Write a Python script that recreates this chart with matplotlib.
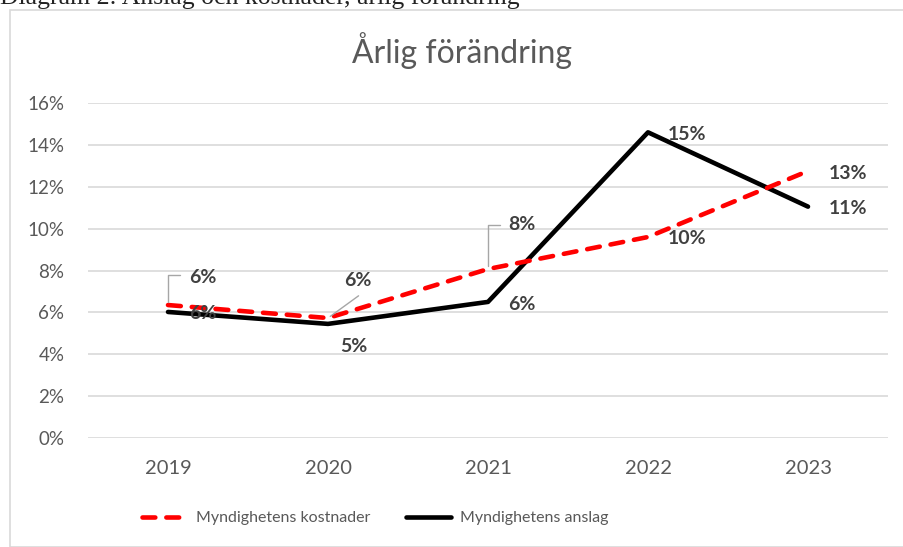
import matplotlib.pyplot as plt
from matplotlib.patches import Rectangle

years = ["2019", "2020", "2021", "2022", "2023"]
kostnader = [6.35, 5.73, 8.07, 9.6, 12.75]
anslag = [6.02, 5.45, 6.5, 14.6, 11.05]
lbl_kost = ["6%", "6%", "8%", "10%", "13%"]
lbl_ansl = ["6%", "5%", "6%", "15%", "11%"]
yticks = [0, 2, 4, 6, 8, 10, 12, 14, 16]

plt.rcParams['font.family'] = ['Lato', 'DejaVu Sans']
grey = "#595959"
lblc = "#404040"

fig = plt.figure(figsize=(9.04, 5.47), dpi=100)
# outer chart frame
fig.patches.append(Rectangle((10/904, 0), 1.0, 1 - 10/547, transform=fig.transFigure,
                             fill=False, edgecolor="#d9d9d9", linewidth=1.2))
fig.text(0.0, 1 - 4/547, "Diagram 2: Anslag och kostnader, årlig förändring",
         family="Liberation Serif", fontsize=18.5, color="#222222", va="baseline")

ax = fig.add_axes([88/904, 1 - 438/547, 800/904, 335/547])
x = range(len(years))
ax.plot(x, kostnader, color="#ff0000", lw=3.3, ls=(0, (2.8, 2.4)), dash_capstyle="round",
        label="Myndighetens kostnader", zorder=3)
ax.plot(x, anslag, color="black", lw=3.3, solid_capstyle="round",
        label="Myndighetens anslag", zorder=2)

ax.set_xlim(-0.5, 4.5)
ax.set_ylim(0, 16)
ax.set_yticks(yticks)
ax.set_yticklabels([f"{t}%" for t in yticks])
ax.set_xticks(list(x))
ax.set_xticklabels(years)
ax.tick_params(length=0, colors=grey)
ax.tick_params(axis="y", pad=17, labelsize=13.5)
ax.tick_params(axis="x", pad=16, labelsize=14.5)
ax.grid(axis="y", color="#d9d9d9", lw=1.2)
ax.set_axisbelow(True)
for s in ax.spines.values():
    s.set_visible(False)

fig.text(462/904, 1 - 51/547, "Årlig förändring", ha="center", va="center",
         fontsize=23, color=grey)

kw = dict(fontsize=14, fontweight="bold", color=lblc, va="center", ha="left", zorder=5)
# data labels (offsets in points)
offs_k = [(15, 20), (11.5, 27), (14.5, 32), (14.5, -1), (15, -2)]
offs_a = [(15, -1), (8.5, -16), (14.5, -2), (14.5, -1.5), (15, -1)]
for i in range(5):
    ax.annotate(lbl_kost[i], (i, kostnader[i]), xytext=offs_k[i], textcoords="offset points", **kw)
    ax.annotate(lbl_ansl[i], (i, anslag[i]), xytext=offs_a[i], textcoords="offset points", **kw)

# leader lines
lc = "#a6a6a6"
ax.annotate("", (0, kostnader[0]), xytext=(8.6, 21.5), textcoords="offset points",
            arrowprops=dict(arrowstyle="-", color=lc, lw=1, shrinkA=0, shrinkB=2,
                            connectionstyle="angle,angleA=0,angleB=90,rad=0"))
ax.annotate("", (1, kostnader[1]), xytext=(22, 16), textcoords="offset points",
            arrowprops=dict(arrowstyle="-", color=lc, lw=1, shrinkA=0, shrinkB=2))
ax.annotate("", (2, kostnader[2]), xytext=(8.6, 32), textcoords="offset points",
            arrowprops=dict(arrowstyle="-", color=lc, lw=1, shrinkA=0, shrinkB=2,
                            connectionstyle="angle,angleA=0,angleB=90,rad=0"))

fig.legend(loc="center left", bbox_to_anchor=(142/904, 1 - 518/547), ncol=2, frameon=False,
           fontsize=11.5, labelcolor=grey, handlelength=2.8, columnspacing=2.2,
           handletextpad=0.6, borderpad=0, borderaxespad=0)

fig.savefig("out.png", dpi=100)
